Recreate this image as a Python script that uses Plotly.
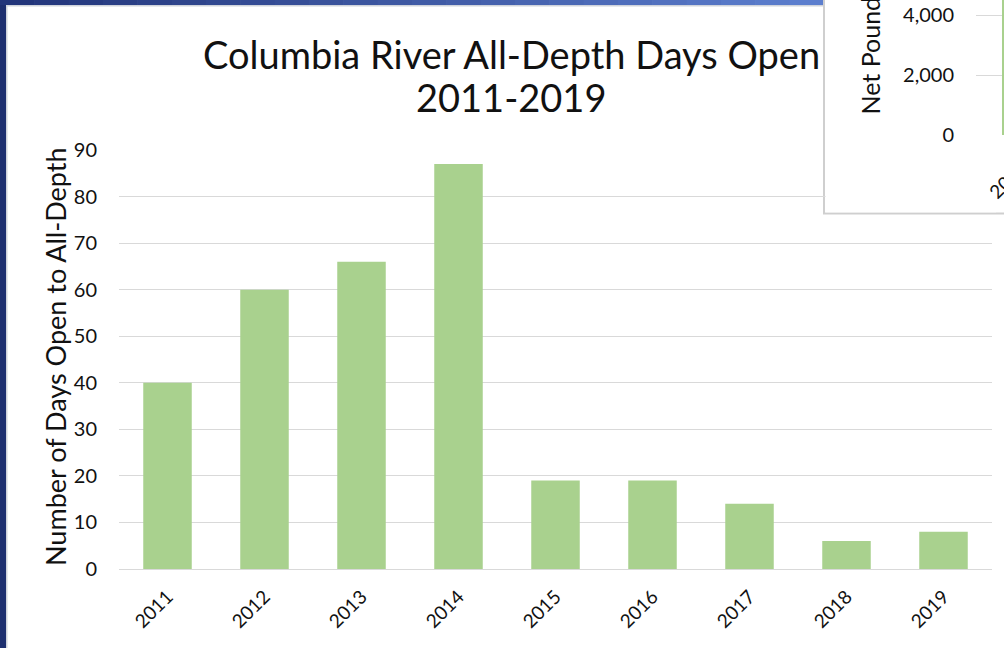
import plotly.graph_objects as go

# ---- data ----
years = ["2011", "2012", "2013", "2014", "2015", "2016", "2017", "2018", "2019"]
days_open = [40, 60, 66, 87, 19, 19, 14, 6, 8]
y_ticks = [0, 10, 20, 30, 40, 50, 60, 70, 80, 90]

inset_years = ["2011"]
inset_pounds = [5200]
inset_ticks = [0, 2000, 4000]

title_line1 = "Columbia River All-Depth Days Open"
title_line2 = "2011-2019"
y_title = "Number of Days Open to All-Depth"
inset_y_title = "Net Pounds Landed"

# ---- geometry (pixels) ----
W, H = 1004, 648
ML, MR, MT, MB = 119, 0, 0, 79
PW, PH = W - ML - MR, H - MT - MB


def px(x):
    return (x - ML) / PW


def py(y):
    return (H - MB - y) / PH


FONT = "Lato"
TXT = "#111111"
GRID = "#d9d9d9"
BAR = "#a9d18e"

fig = go.Figure()
fig.add_trace(go.Bar(x=years, y=days_open, marker=dict(color=BAR, line=dict(width=0)),
                     xaxis="x", yaxis="y", hoverinfo="x+y"))
fig.add_trace(go.Bar(x=inset_years, y=inset_pounds, width=0.5,
                     marker=dict(color=BAR, line=dict(width=0)),
                     xaxis="x2", yaxis="y2", hoverinfo="x+y"))

shapes = []
# left dark strip and light edge
shapes.append(dict(type="rect", xref="paper", yref="paper", x0=px(-5), x1=px(6), y0=py(H + 5), y1=py(-5),
                   fillcolor="#1d2f6f", line=dict(width=0), layer="below"))
shapes.append(dict(type="rect", xref="paper", yref="paper", x0=px(6), x1=px(7.5), y0=py(H + 5), y1=py(5),
                   fillcolor="#cfd3db", line=dict(width=0), layer="below"))
# top gradient band
n = 24
c0 = (34, 53, 122)
c1 = (92, 126, 206)
x_start, x_end = 0, 824
for i in range(n):
    t = i / (n - 1)
    col = tuple(int(round(c0[k] + (c1[k] - c0[k]) * t)) for k in range(3))
    xa = x_start + (x_end - x_start) * i / n
    xb = x_start + (x_end - x_start) * (i + 1) / n + 0.6
    shapes.append(dict(type="rect", xref="paper", yref="paper", x0=px(xa), x1=px(xb), y0=py(5), y1=py(-5),
                       fillcolor="rgb(%d,%d,%d)" % col, line=dict(width=0), layer="below"))
shapes.append(dict(type="rect", xref="paper", yref="paper", x0=px(6), x1=px(824), y0=py(6.5), y1=py(5),
                   fillcolor="#cfd3db", line=dict(width=0), layer="below"))
# inset chart box
shapes.append(dict(type="rect", xref="paper", yref="paper", x0=px(824), x1=px(1012), y0=py(213.5), y1=py(-10),
                   fillcolor="white", line=dict(color="#cfcfcf", width=2), layer="below"))
# box covering main gridlines under the inset
shapes.append(dict(type="rect", xref="paper", yref="paper", x0=px(825.5), x1=px(996), y0=py(212.3), y1=py(144),
                   fillcolor="white", line=dict(width=0), layer="above"))

annotations = [
    dict(text=title_line1, xref="paper", yref="paper", x=px(511), y=py(54), xanchor="center", yanchor="middle",
         showarrow=False, font=dict(family=FONT, size=38, color=TXT)),
    dict(text=title_line2, xref="paper", yref="paper", x=px(511), y=py(97), xanchor="center", yanchor="middle",
         showarrow=False, font=dict(family=FONT, size=38, color=TXT)),
    dict(text=y_title, xref="paper", yref="paper", x=px(55), y=py(357), xanchor="center", yanchor="middle",
         textangle=-90, showarrow=False, font=dict(family=FONT, size=27, color=TXT)),
    dict(text=inset_y_title, xref="paper", yref="paper", x=px(870), y=py(117), xanchor="center", yanchor="bottom",
         textangle=-90, showarrow=False, font=dict(family=FONT, size=25, color=TXT)),
    dict(text=inset_years[0], xref="paper", yref="paper", x=px(981), y=py(206), xanchor="left", yanchor="bottom",
         textangle=-45, showarrow=False, font=dict(family=FONT, size=19, color=TXT)),
]

fig.update_layout(
    width=W, height=H,
    margin=dict(l=ML, r=MR, t=MT, b=MB, pad=0, autoexpand=False),
    paper_bgcolor="white", plot_bgcolor="rgba(0,0,0,0)",
    showlegend=False, bargap=0.5,
    font=dict(family=FONT, color=TXT),
    xaxis=dict(domain=[0, (992 - ML) / PW], type="category", showgrid=False, zeroline=False,
               showline=True, linecolor=GRID, linewidth=1.3, ticks="", automargin=False,
               ticklabelstandoff=8,
               tickangle=-45, tickfont=dict(family=FONT, size=19, color=TXT), anchor="y"),
    yaxis=dict(domain=[0, 419 / PH], range=[0, 90], tickvals=y_ticks, showgrid=True, gridcolor=GRID,
               gridwidth=1.3, zeroline=False, showline=False, ticks="", ticklabelstandoff=21,
               automargin=False, tickfont=dict(family=FONT, size=20, color=TXT), anchor="x"),
    xaxis2=dict(domain=[(976 - ML) / PW, 1], type="category", range=[-0.9, -0.2], showgrid=False,
                zeroline=False, showline=False, showticklabels=False, ticks="", automargin=False,
                anchor="y2"),
    yaxis2=dict(domain=[py(135), 1], range=[0, 4500], tickvals=inset_ticks, tickformat=",",
                showgrid=True, gridcolor=GRID, gridwidth=1.3, zeroline=False, showline=False, ticks="",
                ticklabelstandoff=21, automargin=False,
                tickfont=dict(family=FONT, size=20, color=TXT), anchor="x2"),
    shapes=shapes, annotations=annotations,
)

fig.write_html("out.html", config={"displayModeBar": False},
               post_script="document.body.style.margin='0';")
